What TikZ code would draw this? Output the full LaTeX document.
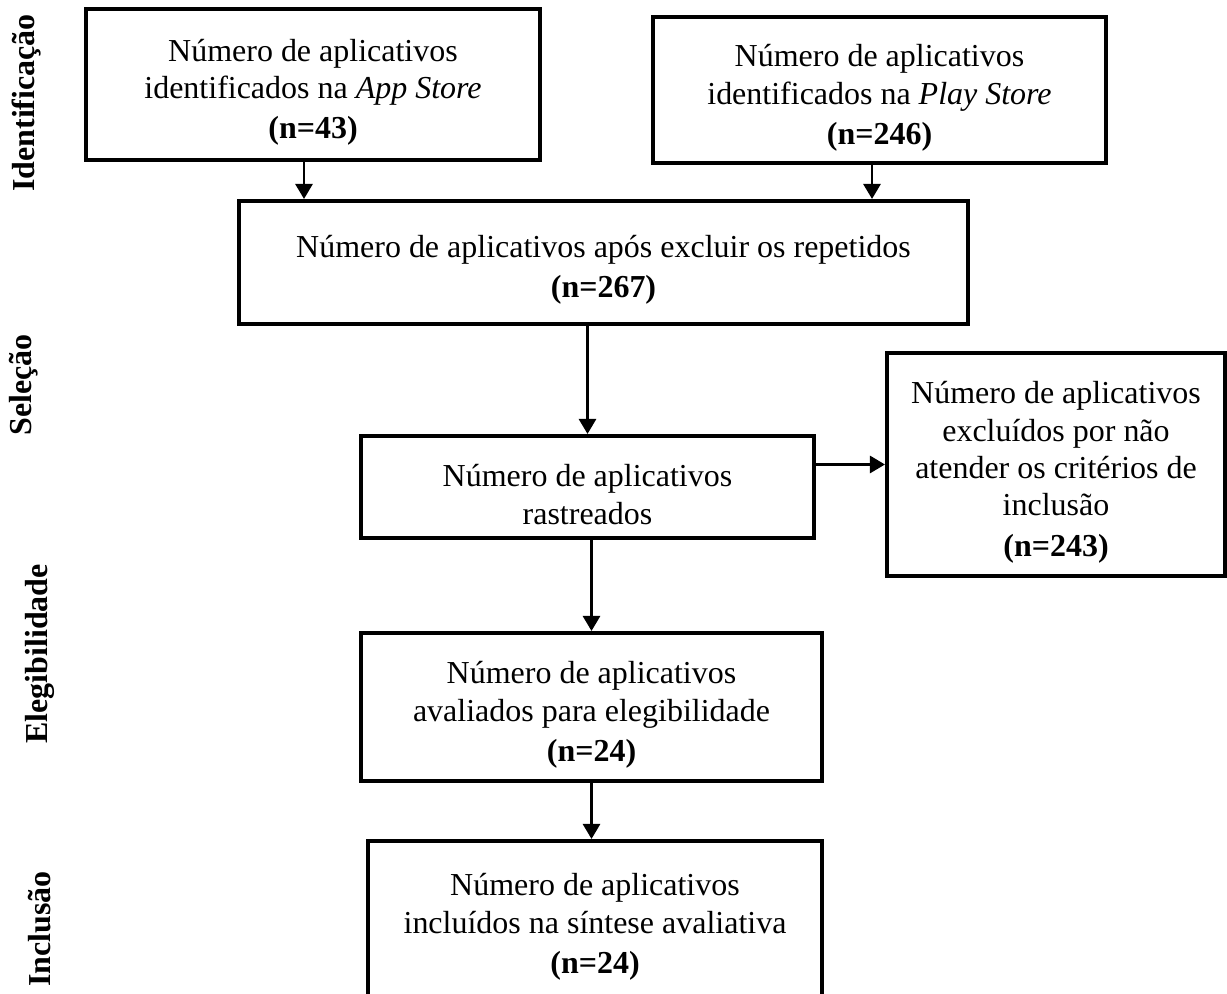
\documentclass[tikz,border=0pt]{standalone}
\usepackage{fontspec}
\setmainfont{Liberation Serif}
\usetikzlibrary{arrows.meta}

% extra room above the first line, so the text sits a little low in its box
\newcommand{\topo}{\rule{0pt}{0.75cm}}

\tikzset{
    etapa/.style={draw, line width=2.3pt, align=center, inner sep=0pt,
        font=\fontsize{18.2}{21.3}\selectfont},
    seta/.style={line width=1.6pt, -{Triangle[length=0.3cm, width=0.34cm]}},
    fase/.style={rotate=90, inner sep=0pt, font=\fontsize{18.2}{21}\selectfont\bfseries}
}

\begin{document}
\begin{tikzpicture}
    \useasboundingbox (0,0) rectangle (24.54,19.86);

    % Phase labels on the left
    \node[fase] (identificacao) at (0.54,17.80) {Identificação};
    \node[fase] (selecao) at (0.48,12.16) {Seleção};
    \node[fase] (elegibilidade) at (0.80,6.78) {Elegibilidade};
    \node[fase] (inclusao) at (0.80,1.28) {Inclusão};

    % Identification boxes
    \node[etapa, minimum width=9.08cm, minimum height=3.02cm] (appstore) at (6.26,18.17)
        {\topo Número de aplicativos\\identificados na \textit{App Store}\\[1.5pt]\textbf{(n=43)}};
    \node[etapa, minimum width=9.06cm, minimum height=2.92cm] (playstore) at (17.59,18.06)
        {\topo Número de aplicativos\\identificados na \textit{Play Store}\\[1.5pt]\textbf{(n=246)}};

    % After removing duplicates
    \node[etapa, minimum width=14.58cm, minimum height=2.46cm] (semrepetidos) at (12.07,14.61)
        {\topo Número de aplicativos após excluir os repetidos\\[1.5pt]\textbf{(n=267)}};

    % Screening and exclusion
    \node[etapa, minimum width=9.06cm, minimum height=2.04cm] (rastreados) at (11.75,10.12)
        {\topo Número de aplicativos\\rastreados};
    \node[etapa, minimum width=6.76cm, minimum height=4.46cm] (excluidos) at (21.12,10.57)
        {\topo Número de aplicativos\\excluídos por não\\atender os critérios de\\inclusão\\[1.5pt]\textbf{(n=243)}};

    % Eligibility
    \node[etapa, minimum width=9.22cm, minimum height=2.96cm] (avaliados) at (11.83,5.72)
        {\topo Número de aplicativos\\avaliados para elegibilidade\\[1.5pt]\textbf{(n=24)}};

    % Inclusion (bottom edge runs off the page)
    \node[etapa, minimum width=9.08cm, minimum height=3.12cm] (incluidos) at (11.90,1.48)
        {\topo Número de aplicativos\\incluídos na síntese avaliativa\\[1.5pt]\textbf{(n=24)}};

    % Arrows
    \draw[seta] ([xshift=-0.18cm]appstore.south) -- ([xshift=-0.18cm]appstore.south |- semrepetidos.north);
    \draw[seta] ([xshift=-0.15cm]playstore.south) -- ([xshift=-0.15cm]playstore.south |- semrepetidos.north);
    \draw[seta] (rastreados.north |- semrepetidos.south) -- (rastreados.north);
    \draw[seta] (rastreados.east |- excluidos.west) -- (excluidos.west);
    \draw[seta] (avaliados.north |- rastreados.south) -- (avaliados.north);
    \draw[seta] (avaliados.south) -- (avaliados.south |- incluidos.north);
\end{tikzpicture}
\end{document}
